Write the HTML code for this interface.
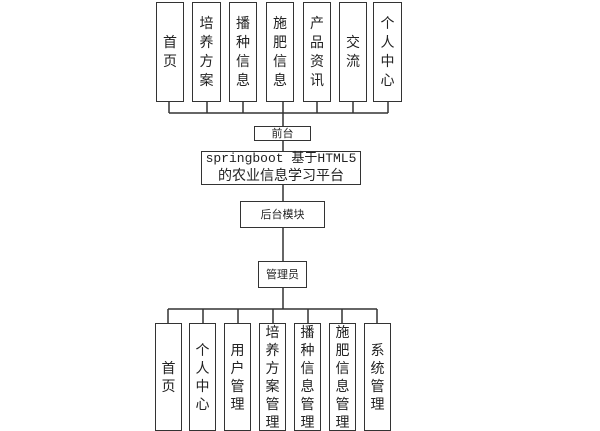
<!DOCTYPE html>
<html><head><meta charset="utf-8"><style>
body{margin:0;width:600px;height:420px;background:#fff;position:relative;overflow:hidden;font-family:"Liberation Sans","Noto Sans CJK SC",sans-serif;color:#222}
.b{position:absolute;border:1.5px solid #333;box-sizing:border-box;background:#fff;display:flex;flex-direction:column;align-items:center;justify-content:center;font-size:14px;line-height:18px;text-align:center}
.t{line-height:19px}
.s{font-size:11px}
svg{position:absolute;left:0;top:0}
</style></head><body>
<svg width="600" height="420"><g stroke="#333" stroke-width="1.5" fill="none">
<path d="M169 102V113M207 102V113M243 102V113M283 102V113M317 102V113M353 102V113M388 102V113M169 113H388"/>
<path d="M283 113V126M283 141V151M283 185V201M283 228V261M283 288V309"/>
<path d="M168 309H377M168 309V323M203 309V323M238 309V323M273 309V323M308 309V323M342 309V323M377 309V323"/>
</g></svg>
<div class="b t" style="left:156px;top:2px;width:28px;height:100px">首<br>页</div>
<div class="b t" style="left:192px;top:2px;width:29px;height:100px">培<br>养<br>方<br>案</div>
<div class="b t" style="left:229px;top:2px;width:28px;height:100px">播<br>种<br>信<br>息</div>
<div class="b t" style="left:266px;top:2px;width:28px;height:100px">施<br>肥<br>信<br>息</div>
<div class="b t" style="left:303px;top:2px;width:28px;height:100px">产<br>品<br>资<br>讯</div>
<div class="b t" style="left:339px;top:2px;width:28px;height:100px">交<br>流</div>
<div class="b t" style="left:373px;top:2px;width:29px;height:100px">个<br>人<br>中<br>心</div>
<div class="b s" style="left:254px;top:126px;width:57px;height:15px">前台</div>
<div class="b" style="left:201px;top:151px;width:160px;height:34px;font-size:13px;line-height:18px;font-family:'Liberation Mono','Noto Sans CJK SC',monospace"><span>springboot 基于HTML5</span><span style="font-size:14px">的农业信息学习平台</span></div>
<div class="b s" style="left:240px;top:201px;width:85px;height:27px">后台模块</div>
<div class="b s" style="left:258px;top:261px;width:49px;height:27px">管理员</div>
<div class="b" style="left:155px;top:323px;width:27px;height:108px">首<br>页</div>
<div class="b" style="left:189px;top:323px;width:27px;height:108px">个<br>人<br>中<br>心</div>
<div class="b" style="left:224px;top:323px;width:27px;height:108px">用<br>户<br>管<br>理</div>
<div class="b" style="left:259px;top:323px;width:27px;height:108px">培<br>养<br>方<br>案<br>管<br>理</div>
<div class="b" style="left:294px;top:323px;width:27px;height:108px">播<br>种<br>信<br>息<br>管<br>理</div>
<div class="b" style="left:329px;top:323px;width:27px;height:108px">施<br>肥<br>信<br>息<br>管<br>理</div>
<div class="b" style="left:364px;top:323px;width:27px;height:108px">系<br>统<br>管<br>理</div>
</body></html>
